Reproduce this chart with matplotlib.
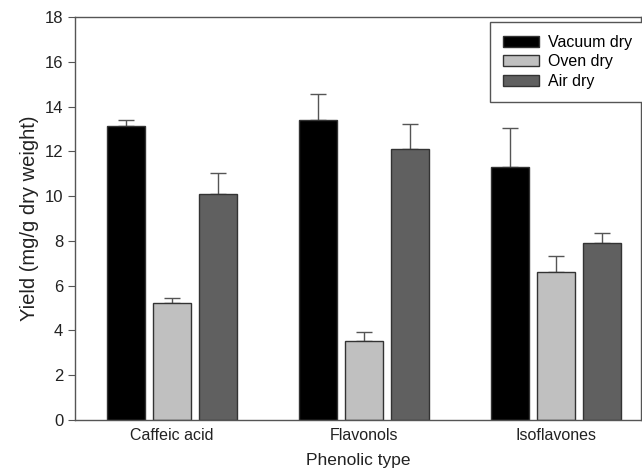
import numpy as np
import matplotlib
matplotlib.use('Agg')
import matplotlib.pyplot as plt

plt.rcParams['font.family'] = ['Liberation Sans', 'DejaVu Sans']

categories = ['Caffeic acid', 'Flavonols', 'Isoflavones']
series = ['Vacuum dry', 'Oven dry', 'Air dry']
vacuum = [13.14, 13.40, 11.31]
oven = [5.21, 3.53, 6.62]
air = [10.08, 12.09, 7.89]
vacuum_err = [0.24, 1.17, 1.72]
oven_err = [0.25, 0.40, 0.70]
air_err = [0.95, 1.12, 0.45]

values = [vacuum, oven, air]
errors = [vacuum_err, oven_err, air_err]
colors = ['#000000', '#c0c0c0', '#606060']

fig = plt.figure(figsize=(6.42, 4.70), dpi=100)
ax = fig.add_axes([0.1168, 0.1064, 0.8815, 0.8574])

x = np.arange(len(categories))
step = 0.24
width = 0.198
for i, (vals, errs, col) in enumerate(zip(values, errors, colors)):
    pos = x + (i - 1) * step
    ax.bar(pos, vals, width, color=col, edgecolor='#333333', linewidth=1.0,
           label=series[i], zorder=2)
    # only the upper half of the error bar is shown
    ax.errorbar(pos, vals, yerr=[np.zeros(len(errs)), errs], fmt='none',
                ecolor='#555555', elinewidth=1.0, capsize=6, capthick=1.0, zorder=1)

ax.set_xlim(-0.505, 2.443)
ax.set_ylim(0, 18)
ax.set_yticks(np.arange(0, 19, 2))
ax.set_xticks(x)
ax.set_xticklabels(categories)
ax.tick_params(axis='x', length=0, labelsize=11.5, pad=6, colors='#222222')
ax.tick_params(axis='y', direction='out', length=5, labelsize=12,
               color='#555555', labelcolor='#222222')
for s in ax.spines.values():
    s.set_color('#555555')
    s.set_linewidth(1.0)

ax.set_ylabel('Yield (mg/g dry weight)', fontsize=14.5, color='#222222', labelpad=4)
ax.set_xlabel('Phenolic type', fontsize=12.5, color='#222222', labelpad=7)

leg = ax.legend(loc='upper left', bbox_to_anchor=(0.733, 0.9876), fontsize=11.5,
                fancybox=False, framealpha=1, edgecolor='#555555',
                handlelength=2.25, handleheight=0.7, labelspacing=0.27,
                borderpad=0.82, handletextpad=0.6, borderaxespad=0.0)
leg.get_frame().set_linewidth(1.0)

fig.savefig('out.png', dpi=100)
